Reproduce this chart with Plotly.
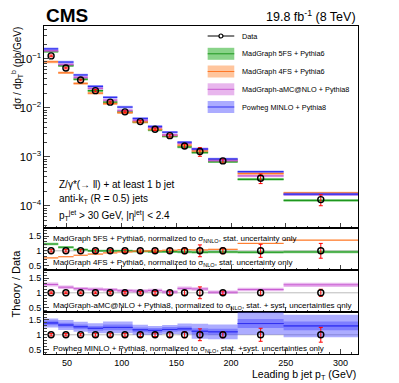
import plotly.graph_objects as go
from plotly.subplots import make_subplots

# bins of leading b jet pT (GeV)
bin_lo = [29, 42, 56, 69, 83, 96, 110, 124, 137, 151, 164, 179, 206, 248]
bin_hi = [42, 56, 69, 83, 96, 110, 124, 137, 151, 164, 179, 206, 248, 316]

# measured cross section (pb/GeV) and relative uncertainties
data_xsec = [0.115, 0.065, 0.037, 0.0225, 0.0131, 0.0083, 0.00525, 0.00367,
             0.00272, 0.00167, 0.00129, 0.00083, 0.000367, 0.000135]
data_err = [0.04, 0.04, 0.04, 0.05, 0.05, 0.05, 0.06, 0.06, 0.07, 0.10, 0.20, 0.10, 0.22, 0.25]
data_err_amc = [0.03, 0.03, 0.03, 0.03, 0.04, 0.04, 0.04, 0.05, 0.06, 0.08, 0.20, 0.06, 0.08, 0.12]

# predictions, main panel (pb/GeV)
mg5fs_xsec = [0.141, 0.073, 0.0385, 0.0225, 0.0131, 0.0083, 0.00515, 0.00356,
              0.00264, 0.0016, 0.00123, 0.0008, 0.00035, 0.00013]
mg4fs_xsec = [0.087, 0.052, 0.0315, 0.020, 0.0122, 0.0080, 0.0052, 0.00367,
              0.00277, 0.00174, 0.00133, 0.00087, 0.00046, 0.000184]
amc_xsec = [0.147, 0.077, 0.042, 0.025, 0.0144, 0.0089, 0.0056, 0.0040,
            0.0028, 0.0019, 0.00146, 0.00085, 0.00041, 0.000171]
powheg_xsec = [0.160, 0.086, 0.047, 0.0275, 0.0164, 0.0104, 0.0061, 0.0042,
               0.0032, 0.0020, 0.00145, 0.00091, 0.00050, 0.000175]

# theory / data ratios and band half-widths
mg5fs_ratio = [1.23, 1.12, 1.04, 1.00, 1.00, 1.00, 0.98, 0.97, 0.97, 0.96, 0.95, 0.96, 0.95, 0.96]
mg5fs_unc = [0.04, 0.04, 0.04, 0.04, 0.04, 0.04, 0.04, 0.04, 0.04, 0.04, 0.04, 0.04, 0.04, 0.04]
mg4fs_ratio = [0.76, 0.80, 0.85, 0.89, 0.93, 0.96, 0.99, 1.00, 1.02, 1.04, 1.03, 1.05, 1.25, 1.36]
mg4fs_unc = [0.02, 0.02, 0.02, 0.02, 0.02, 0.02, 0.02, 0.02, 0.02, 0.02, 0.02, 0.02, 0.02, 0.02]
amc_ratio = [1.28, 1.19, 1.14, 1.12, 1.10, 1.07, 1.06, 1.08, 1.03, 1.15, 1.13, 1.02, 1.11, 1.27]
amc_unc = [0.07, 0.06, 0.06, 0.06, 0.06, 0.06, 0.06, 0.06, 0.06, 0.06, 0.06, 0.06, 0.06, 0.07]
powheg_ratio = [1.40, 1.33, 1.27, 1.22, 1.25, 1.25, 1.17, 1.15, 1.18, 1.20, 1.12, 1.10, 1.38, 1.30]
powheg_unc = [0.15, 0.17, 0.17, 0.17, 0.20, 0.20, 0.17, 0.15, 0.15, 0.18, 0.25, 0.25, 0.38, 0.38]
powheg_unc_inner = [0.08, 0.08, 0.08, 0.08, 0.10, 0.10, 0.08, 0.08, 0.08, 0.08, 0.10, 0.10, 0.15, 0.15]

legend_labels = ["Data", "MadGraph 5FS + Pythia6", "MadGraph 4FS + Pythia6",
                 "MadGraph-aMC@NLO + Pythia8", "Powheg MINLO + Pythia8"]
panel_labels = [
    "MadGraph 5FS + Pythia6, normalized to σ<sub>NNLO</sub>, stat. uncertainty only",
    "MadGraph 4FS + Pythia6, normalized to σ<sub>NLO</sub>, stat. uncertainty only",
    "MadGraph-aMC@NLO + Pythia8, normalized to σ<sub>NLO</sub>, stat. + syst. uncertainties only",
    "Powheg MINLO + Pythia8, normalized to σ<sub>NLO</sub>, stat. +syst. uncertainties only",
]

GREEN = ("rgba(40,175,40,0.55)", "rgb(30,150,30)")
ORANGE = ("rgba(255,140,60,0.5)", "rgb(255,120,40)")
MAGENTA = ("rgba(210,110,220,0.5)", "rgb(200,90,210)")
BLUE = ("rgba(70,70,255,0.45)", "rgb(50,50,240)")
FONT = "Liberation Sans, Arial, sans-serif"
MAIN_BAND = 0.06

# the page body keeps an 8px margin, so the figure is shrunk by that much
PAGE_OFF = 8
W, H = 399 - PAGE_OFF, 383 - PAGE_OFF
ML, MR, MT, MB = 40 - PAGE_OFF, 40.5, 26 - PAGE_OFF, 29


def px_x(px):
    # window pixel -> paper x (plot area spans 40..358.5)
    return (px - 40) / 318.5


def px_y(py):
    # window pixel -> paper y (plot area spans 26..354)
    return (354 - py) / 328


def box_path(lo, hi, low, high):
    xs, ys = [], []
    for a, b, l, h in zip(lo, hi, low, high):
        xs += [a, b, b, a, a, None]
        ys += [l, l, h, h, l, None]
    return xs, ys


def step_path(lo, hi, vals):
    xs, ys = [], []
    for a, b, v in zip(lo, hi, vals):
        xs += [a, b, None]
        ys += [v, v, None]
    return xs, ys


def add_band(fig, row, vals, low, high, colors, width):
    bx, by = box_path(bin_lo, bin_hi, low, high)
    fig.add_trace(go.Scatter(x=bx, y=by, mode="lines", fill="toself", fillcolor=colors[0],
                             line=dict(width=0), hoverinfo="skip", showlegend=False), row=row, col=1)
    sx, sy = step_path(bin_lo, bin_hi, vals)
    fig.add_trace(go.Scatter(x=sx, y=sy, mode="lines", line=dict(color=colors[1], width=width),
                             showlegend=False), row=row, col=1)


fig = make_subplots(rows=4, cols=1, shared_xaxes=True, vertical_spacing=0,
                    row_heights=[0.616, 0.128, 0.128, 0.128])

centers = [(a + b) / 2 for a, b in zip(bin_lo, bin_hi)]

# main panel
for vals, colors in [(mg5fs_xsec, GREEN), (mg4fs_xsec, ORANGE), (amc_xsec, MAGENTA), (powheg_xsec, BLUE)]:
    add_band(fig, 1, vals, [v * (1 - MAIN_BAND) for v in vals], [v * (1 + MAIN_BAND) for v in vals],
             colors, 1.3)


def add_data(fig, row, yvals, errs):
    fig.add_trace(go.Scatter(
        x=centers, y=yvals, mode="markers",
        marker=dict(symbol="circle-open", size=6, color="black", line=dict(width=1.4)),
        error_y=dict(type="data", array=errs, color="red", thickness=1, width=2),
        showlegend=False), row=row, col=1)


add_data(fig, 1, data_xsec, [d * e for d, e in zip(data_xsec, data_err)])

ones = [1.0 for _ in centers]
# ratio panel 1: 5FS and 4FS
add_band(fig, 2, mg5fs_ratio, [r - u for r, u in zip(mg5fs_ratio, mg5fs_unc)],
         [r + u for r, u in zip(mg5fs_ratio, mg5fs_unc)], GREEN, 1)
add_band(fig, 2, mg4fs_ratio, [r - u for r, u in zip(mg4fs_ratio, mg4fs_unc)],
         [r + u for r, u in zip(mg4fs_ratio, mg4fs_unc)], ORANGE, 1)
add_data(fig, 2, ones, data_err)
# ratio panel 2: aMC@NLO
add_band(fig, 3, amc_ratio, [r - u for r, u in zip(amc_ratio, amc_unc)],
         [r + u for r, u in zip(amc_ratio, amc_unc)], MAGENTA, 1)
add_data(fig, 3, ones, data_err_amc)
# ratio panel 3: Powheg, outer and inner bands
add_band(fig, 4, powheg_ratio, [r - u for r, u in zip(powheg_ratio, powheg_unc)],
         [r + u for r, u in zip(powheg_ratio, powheg_unc)], BLUE, 1)
add_band(fig, 4, powheg_ratio, [r - u for r, u in zip(powheg_ratio, powheg_unc_inner)],
         [r + u for r, u in zip(powheg_ratio, powheg_unc_inner)], BLUE, 1)
add_data(fig, 4, ones, data_err)

for r in (2, 3, 4):
    fig.add_hline(y=1, line=dict(color="#bbbbbb", width=1), row=r, col=1, layer="below")

axis_common = dict(showline=True, linecolor="black", linewidth=1, mirror=True, ticks="inside",
                   showgrid=False, zeroline=False, tickfont=dict(family=FONT, size=9, color="black"))
for r in (1, 2, 3, 4):
    fig.update_xaxes(range=[29, 316], dtick=50, tick0=0, ticklen=5, showticklabels=(r == 4),
                     minor=dict(dtick=10, ticks="inside", ticklen=2.5, showgrid=False),
                     row=r, col=1, **axis_common)
fig.update_yaxes(type="log", range=[-4.45, -0.33], dtick=1, exponentformat="power", ticklen=6,
                 minor=dict(ticks="inside", ticklen=3, showgrid=False), row=1, col=1, **axis_common)
for r in (2, 3, 4):
    fig.update_yaxes(range=[0.35, 1.77], tickvals=[0.5, 1, 1.5], ticktext=["0.5", "1", "1.5"],
                     ticklen=5, minor=dict(dtick=0.1, ticks="inside", ticklen=2.5, showgrid=False),
                     row=r, col=1, **axis_common)

ann = []
ann.append(dict(x=px_x(40), y=px_y(15), text="<b>CMS</b>", xanchor="left", yanchor="middle",
                font=dict(size=19)))
ann.append(dict(x=px_x(358.5), y=px_y(15.5), text="19.8 fb<sup>-1</sup> (8 TeV)", xanchor="right",
                yanchor="middle", font=dict(size=12.5)))
ann.append(dict(x=px_x(12), y=px_y(68), text="dσ / dp<sub>T</sub><sup>b</sup> (pb/GeV)", textangle=-90,
                xanchor="center", yanchor="middle", font=dict(size=10)))
ann.append(dict(x=px_x(12), y=px_y(283), text="Theory / Data", textangle=-90,
                xanchor="center", yanchor="middle", font=dict(size=11)))
ann.append(dict(x=px_x(358.5), y=px_y(374.5), text="Leading b jet p<sub>T</sub> (GeV)", xanchor="right",
                yanchor="middle", font=dict(size=10.5)))
for txt, py in [("Z/γ*(→ ll) + at least 1 b jet", 184), ("anti-k<sub>T</sub> (R = 0.5) jets", 199),
                ("p<sub>T</sub><sup>jet</sup> > 30 GeV, |η<sup>jet</sup>| < 2.4", 215)]:
    ann.append(dict(x=px_x(53), y=px_y(py), text=txt, xanchor="left", yanchor="middle",
                    font=dict(size=10)))
for txt, py in zip(panel_labels, [238.5, 263, 306, 349]):
    ann.append(dict(x=px_x(47), y=px_y(py), text=txt, xanchor="left", yanchor="middle",
                    font=dict(size=8)))

# legend drawn by hand
shapes = []
leg_rows = [36, 53.8, 71.5, 89.3, 107]
leg_styles = [None, GREEN, ORANGE, MAGENTA, BLUE]
for label, py, sty in zip(legend_labels, leg_rows, leg_styles):
    if sty is None:
        shapes.append(dict(type="line", xref="paper", yref="paper", x0=px_x(206), x1=px_x(233),
                           y0=px_y(py), y1=px_y(py), line=dict(color="black", width=1)))
        shapes.append(dict(type="circle", xref="paper", yref="paper", x0=px_x(217.5), x1=px_x(221.5),
                           y0=px_y(py + 2), y1=px_y(py - 2), line=dict(color="black", width=1.2),
                           fillcolor="white"))
    else:
        shapes.append(dict(type="rect", xref="paper", yref="paper", x0=px_x(206), x1=px_x(233),
                           y0=px_y(py + 6), y1=px_y(py - 6), line=dict(width=0), fillcolor=sty[0]))
        shapes.append(dict(type="line", xref="paper", yref="paper", x0=px_x(206), x1=px_x(233),
                           y0=px_y(py), y1=px_y(py), line=dict(color=sty[1], width=1)))
    ann.append(dict(x=px_x(239), y=px_y(py), text=label, xanchor="left", yanchor="middle",
                    font=dict(size=7.3)))

for a in ann:
    a.update(xref="paper", yref="paper", showarrow=False)
    a["font"].update(family=FONT, color="black")

fig.update_layout(
    width=W, height=H, margin=dict(l=ML, r=MR, t=MT, b=MB),
    paper_bgcolor="white", plot_bgcolor="white", showlegend=False,
    annotations=ann, font=dict(family=FONT, color="black"),
)
for s in shapes:
    fig.add_shape(**s)

fig.write_html("out.html")
